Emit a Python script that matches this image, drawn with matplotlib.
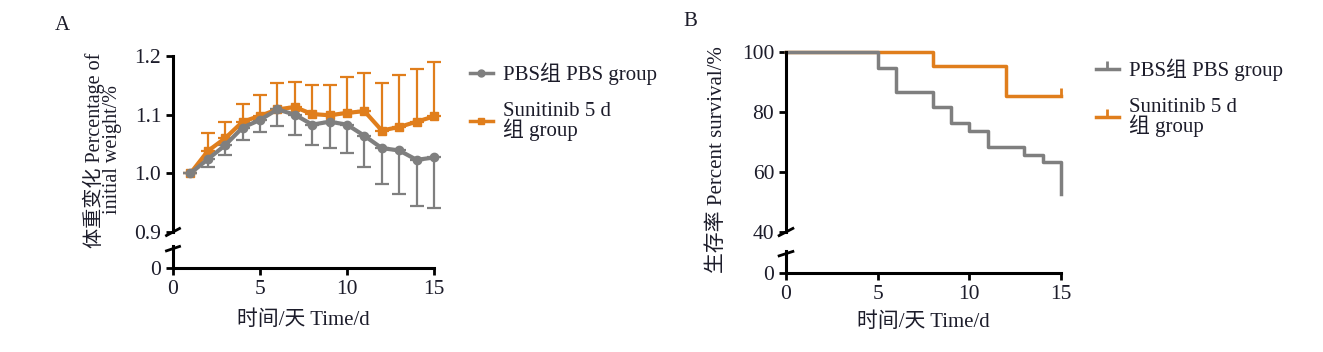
import numpy as np
import matplotlib
matplotlib.use('Agg')
from matplotlib import pyplot as plt
from matplotlib.lines import Line2D

plt.rcParams['font.family'] = ['Liberation Serif', 'Noto Sans CJK SC']
plt.rcParams['font.size'] = 15

# 体重数据 (A)
days = np.arange(1, 16)
pbs_mean = [1.000, 1.024, 1.048, 1.078, 1.091, 1.109, 1.100, 1.083, 1.088, 1.083,
            1.064, 1.043, 1.039, 1.023, 1.027]
pbs_err = [0.0, 0.014, 0.016, 0.021, 0.021, 0.028, 0.034, 0.034, 0.045, 0.048,
           0.053, 0.062, 0.075, 0.078, 0.086]
sun_mean = [1.000, 1.038, 1.060, 1.088, 1.098, 1.109, 1.113, 1.101, 1.099, 1.103,
            1.106, 1.073, 1.079, 1.088, 1.097]
sun_err = [0.0, 0.030, 0.027, 0.030, 0.036, 0.045, 0.043, 0.050, 0.052, 0.061,
           0.065, 0.081, 0.088, 0.090, 0.092]

# 生存数据 (B)
pbs_t = [0, 5, 6, 8, 9, 10, 11, 13, 14, 15]
pbs_surv = [100, 94.7, 86.8, 81.6, 76.3, 73.7, 68.4, 65.8, 63.2, 52.6]
sun_t = [0, 8, 12, 15]
sun_surv = [100, 95.2, 85.3, 85.3]

gray = '#7f7f7f'
orange = '#e07e1c'
txt = '#1c1c2a'
labels = ['PBS组 PBS group', 'Sunitinib 5 d\n组 group']

W, H = 1323, 352
fig = plt.figure(figsize=(W / 100, H / 100), dpi=100)


def box(x0, x1, ytop, ybot):
    return [x0 / W, 1 - ybot / H, (x1 - x0) / W, (ybot - ytop) / H]


def style(ax):
    for s in ['top', 'right']:
        ax.spines[s].set_visible(False)
    for s in ['left', 'bottom']:
        ax.spines[s].set_linewidth(2.2)
    ax.tick_params(width=2, length=5, colors='black', labelcolor=txt, labelsize=15.5)


def broken(ax_top, ax_bot):
    ax_top.spines['bottom'].set_visible(False)
    ax_top.tick_params(axis='x', bottom=False, labelbottom=False)
    kw = dict(color='black', lw=2, clip_on=False)
    ax_top.plot([-0.025, 0.025], [-0.02, 0.02], transform=ax_top.transAxes, **kw)
    ax_bot.plot([-0.025, 0.025], [0.78, 0.98], transform=ax_bot.transAxes, **kw)


def legend(handles, x, y):
    leg = fig.legend(handles, labels, loc='upper left', bbox_to_anchor=(x / W, 1 - y / H),
                     frameon=False, handlelength=1.1, handletextpad=0.5,
                     labelspacing=0.8, fontsize=15, labelcolor=txt)
    for t in leg.get_texts():
        t.set_linespacing(0.85)


# ---------- A ----------
axA = fig.add_axes(box(173, 434, 56, 232))
axA0 = fig.add_axes(box(173, 434, 246, 268))
for ax in (axA, axA0):
    style(ax)
    ax.set_xlim(0, 15)
broken(axA, axA0)

axA.errorbar(days, sun_mean, yerr=[np.zeros(15), sun_err], color=orange, marker='s',
             ms=6, lw=3, elinewidth=1.6, capsize=5, capthick=1.6, clip_on=False)
axA.errorbar(days, pbs_mean, yerr=[pbs_err, np.zeros(15)], color=gray, marker='o',
             ms=6, lw=3, elinewidth=1.6, capsize=5, capthick=1.6, clip_on=False)
axA.set_ylim(0.9, 1.2)
axA.set_yticks([0.9, 1.0, 1.1, 1.2])
axA.set_yticklabels(['0.9', '1.0', '1.1', '1.2'])
axA0.set_ylim(0, 0.1)
axA0.set_yticks([0])
axA0.set_yticklabels(['0'])
axA0.set_xticks([0, 5, 10, 15])
axA0.set_xlabel('时间/天 Time/d', color=txt, fontsize=15, labelpad=8)
fig.text(102 / W, 1 - 150 / H, '体重变化 Percentage of\ninitial weight/%', rotation=90,
         ha='center', va='center', fontsize=14.5, color=txt, linespacing=0.85)
fig.text(62 / W, 1 - 25 / H, 'A', fontsize=15, color=txt, ha='center', va='center')

hA = [Line2D([], [], color=gray, marker='o', ms=5, lw=2.5),
      Line2D([], [], color=orange, marker='s', ms=5, lw=2.5)]
legend(hA, 451, 44)

# ---------- B ----------
axB = fig.add_axes(box(786, 1061, 52, 232))
axB0 = fig.add_axes(box(786, 1061, 251, 273))
for ax in (axB, axB0):
    style(ax)
    ax.set_xlim(0, 15)
broken(axB, axB0)

axB.step(sun_t, sun_surv, where='post', color=orange, lw=2.5, clip_on=False)
axB.plot(sun_t[-1:], sun_surv[-1:], marker=2, color=orange, ms=6, mew=2, clip_on=False)
axB.step(pbs_t, pbs_surv, where='post', color=gray, lw=2.5, clip_on=False)
axB.set_ylim(40, 100)
axB.set_yticks([40, 60, 80, 100])
axB0.set_ylim(0, 10)
axB0.set_yticks([0])
axB0.set_xticks([0, 5, 10, 15])
axB0.set_xlabel('时间/天 Time/d', color=txt, fontsize=15, labelpad=6)
fig.text(717 / W, 1 - 160 / H, '生存率 Percent survival/%', rotation=90,
         ha='center', va='center', fontsize=15, color=txt)
fig.text(690 / W, 1 - 22 / H, 'B', fontsize=15, color=txt, ha='center', va='center')

hB = [Line2D([], [], color=gray, marker=2, ms=6, mew=2, lw=2.5),
      Line2D([], [], color=orange, marker=2, ms=6, mew=2, lw=2.5)]
legend(hB, 1077, 40)

fig.savefig('out.png', dpi=100)
